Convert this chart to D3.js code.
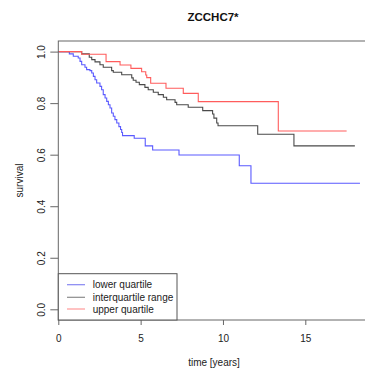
<!DOCTYPE html>
<html>
<head>
<meta charset="utf-8">
<script src="https://cdn.jsdelivr.net/npm/d3@7"></script>
<style>
  html, body { margin: 0; padding: 0; background: #fff; }
  svg { display: block; font-family: "Liberation Sans", Arial, Helvetica, sans-serif; }
</style>
</head>
<body>
<svg id="chart" width="365" height="371"></svg>
<script>
// ---- data ----
const title = "ZCCHC7*";
const xLabel = "time [years]";
const yLabel = "survival";
const xTicks = [0, 5, 10, 15];
const yTicks = [0, 0.2, 0.4, 0.6, 0.8, 1.0];
const seriesNames = ["lower quartile", "interquartile range", "upper quartile"];

const lowerTimes = [0, 0.67, 0.91, 1.21, 1.32, 1.42, 1.62, 1.72, 1.92, 2.03, 2.13, 2.23, 2.33, 2.53, 2.63, 2.73, 2.84, 2.94, 3.04, 3.14, 3.24, 3.34, 3.44, 3.55, 3.68, 3.78, 3.85, 3.90, 4.61, 5.28, 5.73, 7.33, 10.99, 11.70, 18.32];
const lowerSurv  = [1.0, 0.991, 0.982, 0.975, 0.962, 0.949, 0.939, 0.930, 0.926, 0.917, 0.904, 0.891, 0.878, 0.865, 0.852, 0.833, 0.820, 0.807, 0.794, 0.781, 0.762, 0.749, 0.736, 0.723, 0.709, 0.698, 0.686, 0.674, 0.664, 0.634, 0.618, 0.599, 0.557, 0.489, 0.489];

const iqrTimes = [0, 1.42, 1.88, 2.03, 2.23, 2.53, 2.73, 3.24, 3.34, 3.85, 4.46, 4.55, 4.72, 4.92, 5.26, 5.46, 5.77, 6.07, 6.38, 6.58, 7.09, 7.19, 7.89, 8.77, 9.37, 9.45, 9.62, 9.70, 12.11, 14.31, 18.01];
const iqrSurv  = [1.0, 0.991, 0.978, 0.969, 0.960, 0.949, 0.939, 0.926, 0.920, 0.910, 0.898, 0.889, 0.881, 0.872, 0.861, 0.852, 0.842, 0.833, 0.823, 0.813, 0.803, 0.794, 0.784, 0.771, 0.758, 0.742, 0.723, 0.712, 0.679, 0.634, 0.634];

const upperTimes = [0, 1.42, 2.90, 3.75, 4.41, 5.06, 5.31, 5.37, 5.61, 6.54, 7.59, 8.50, 13.36, 17.51];
const upperSurv  = [1.0, 0.9895, 0.961, 0.948, 0.935, 0.922, 0.909, 0.899, 0.877, 0.858, 0.838, 0.806, 0.692, 0.692];

// ---- layout ----
const svg = d3.select("#chart");
const plotLeft = 58.3, plotTop = 41, plotRight = 372, plotBottom = 320;

const x = d3.scaleLinear().domain([0, 15]).range([58.3, 305.3]);
const y = d3.scaleLinear().domain([0, 1]).range([309.3, 51.6]);

const colors = ["#5a5aff", "#4a4a4a", "#ff5c5c"];
const legendColors = ["#8686f2", "#8c8c8c", "#ff9a9a"];

// title
svg.append("text")
  .attr("x", 213).attr("y", 21)
  .attr("text-anchor", "middle")
  .attr("font-size", 11.5).attr("font-weight", "bold")
  .attr("fill", "#111")
  .text(title);

// curves (clipped to plot region)
svg.append("defs").append("clipPath").attr("id", "clip")
  .append("rect").attr("x", plotLeft).attr("y", plotTop)
  .attr("width", plotRight - plotLeft).attr("height", plotBottom - plotTop);

const line = d3.line().x(d => x(d[0])).y(d => y(d[1])).curve(d3.curveStepAfter);
const series = [
  [lowerTimes, lowerSurv],
  [iqrTimes, iqrSurv],
  [upperTimes, upperSurv]
];
const gCurves = svg.append("g").attr("clip-path", "url(#clip)");
series.forEach(([t, s], i) => {
  gCurves.append("path")
    .datum(t.map((v, k) => [v, s[k]]))
    .attr("d", line)
    .attr("fill", "none")
    .attr("stroke", colors[i])
    .attr("stroke-width", 1.1);
});

// plot box
svg.append("rect")
  .attr("x", plotLeft).attr("y", plotTop)
  .attr("width", plotRight - plotLeft).attr("height", plotBottom - plotTop)
  .attr("fill", "none").attr("stroke", "#666").attr("stroke-width", 1);

// y axis
const yAxis = svg.append("g")
  .attr("transform", `translate(${plotLeft},0)`)
  .call(d3.axisLeft(y).tickValues(yTicks).tickSize(8).tickFormat(d3.format(".1f")));
yAxis.select(".domain").remove();
yAxis.selectAll(".tick line").attr("stroke", "#666");
yAxis.selectAll(".tick text")
  .attr("transform", "rotate(-90)")
  .attr("x", 0).attr("y", -16.6).attr("dy", null)
  .attr("text-anchor", "middle")
  .attr("dominant-baseline", "central")
  .attr("font-size", 10).attr("fill", "#222")
  .attr("font-family", "Liberation Sans, Arial, sans-serif");

// x axis
const xAxis = svg.append("g")
  .attr("transform", `translate(0,${plotBottom})`)
  .call(d3.axisBottom(x).tickValues(xTicks).tickSize(5).tickPadding(9.5).tickFormat(d3.format("d")));
xAxis.select(".domain").remove();
xAxis.selectAll(".tick line").attr("stroke", "#666");
xAxis.selectAll(".tick text")
  .attr("font-size", 10).attr("fill", "#222")
  .attr("font-family", "Liberation Sans, Arial, sans-serif");

// axis titles
svg.append("text")
  .attr("x", 214).attr("y", 366)
  .attr("text-anchor", "middle")
  .attr("font-size", 10).attr("fill", "#222")
  .text(xLabel);
svg.append("text")
  .attr("transform", "translate(23,180.5) rotate(-90)")
  .attr("text-anchor", "middle")
  .attr("font-size", 10).attr("fill", "#222")
  .text(yLabel);

// legend
const lg = svg.append("g");
lg.append("rect")
  .attr("x", plotLeft).attr("y", 273.7)
  .attr("width", 177 - plotLeft).attr("height", plotBottom - 273.7)
  .attr("fill", "#fff").attr("stroke", "#555").attr("stroke-width", 1);
const legendY = [284.7, 297.3, 309];
seriesNames.forEach((name, i) => {
  lg.append("line")
    .attr("x1", 67).attr("x2", 85)
    .attr("y1", legendY[i]).attr("y2", legendY[i])
    .attr("stroke", legendColors[i]).attr("stroke-width", 1.2);
  lg.append("text")
    .attr("x", 92.7).attr("y", legendY[i])
    .attr("dominant-baseline", "central")
    .attr("font-size", 10).attr("fill", "#222")
    .text(name);
});
</script>
</body>
</html>
